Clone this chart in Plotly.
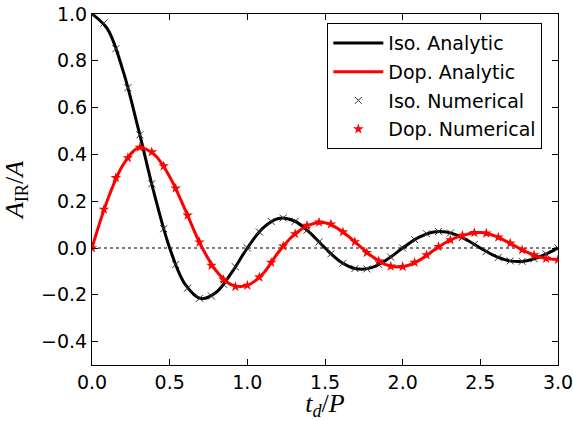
import plotly.graph_objects as go

# Analytic curves, sampled every 0.1 in t_d/P
td_analytic = [0.0, 0.1, 0.2, 0.3, 0.4, 0.5, 0.6, 0.7, 0.8, 0.9,
               1.0, 1.1, 1.2, 1.3, 1.4, 1.5, 1.6, 1.7, 1.8, 1.9,
               2.0, 2.1, 2.2, 2.3, 2.4, 2.5, 2.6, 2.7, 2.8, 2.9, 3.0]
iso_analytic = [1.0, 0.9355, 0.7568, 0.5046, 0.2339, 0.0, -0.1559, -0.2162, -0.1892, -0.1039,
                0.0, 0.0850, 0.1261, 0.1164, 0.0668, 0.0, -0.0585, -0.0890, -0.0841, -0.0492,
                0.0, 0.0445, 0.0688, 0.0658, 0.0390, 0.0, -0.0360, -0.0561, -0.0541, -0.0323, 0.0]
dop_analytic = [0.0, 0.205, 0.355, 0.428, 0.400, 0.305, 0.163, 0.013, -0.098, -0.158,
                -0.160, -0.110, -0.018, 0.056, 0.099, 0.108, 0.076, 0.022, -0.034, -0.073,
                -0.080, -0.055, -0.010, 0.032, 0.056, 0.066, 0.050, 0.017, -0.018, -0.042, -0.050]

# Numerical results, 40 evenly spaced delays over [0, 3]
td_numerical = [0.0, 0.0769, 0.1538, 0.2308, 0.3077, 0.3846, 0.4615, 0.5385, 0.6154, 0.6923,
                0.7692, 0.8462, 0.9231, 1.0, 1.0769, 1.1538, 1.2308, 1.3077, 1.3846, 1.4615,
                1.5385, 1.6154, 1.6923, 1.7692, 1.8462, 1.9231, 2.0, 2.0769, 2.1538, 2.2308,
                2.3077, 2.3846, 2.4615, 2.5385, 2.6154, 2.6923, 2.7692, 2.8462, 2.9231, 3.0]
iso_numerical = [1.0, 0.9615, 0.8514, 0.6846, 0.4836, 0.2744, 0.0825, -0.0707, -0.1715, -0.2149,
                 -0.2054, -0.1548, -0.0801, 0.0, 0.0687, 0.1135, 0.1284, 0.1138, 0.0762, 0.0261,
                 -0.0248, -0.0653, -0.0879, -0.0893, -0.0709, -0.0385, 0.0, 0.0356, 0.0608, 0.0708,
                 0.0645, 0.0443, 0.0155, -0.0150, -0.0404, -0.0553, -0.0571, -0.0460, -0.0253, 0.0]
dop_numerical = [0.0, 0.165, 0.300, 0.385, 0.430, 0.410, 0.350, 0.255, 0.140, 0.025,
                 -0.075, -0.135, -0.165, -0.160, -0.125, -0.062, 0.008, 0.060, 0.096, 0.110,
                 0.102, 0.068, 0.026, -0.020, -0.055, -0.078, -0.080, -0.062, -0.030, 0.005,
                 0.034, 0.053, 0.065, 0.063, 0.046, 0.020, -0.008, -0.030, -0.045, -0.050]

x_ticks = [0.0, 0.5, 1.0, 1.5, 2.0, 2.5, 3.0]
y_ticks = [-0.4, -0.2, 0.0, 0.2, 0.4, 0.6, 0.8, 1.0]

TICK_FONT = dict(family="DejaVu Sans", size=19, color="black")
MATH_FONT = dict(family="Liberation Serif", size=26, color="black")

fig = go.Figure()

fig.add_trace(go.Scatter(
    x=td_analytic, y=iso_analytic, mode="lines", name="Iso. Analytic",
    line=dict(color="black", width=3, shape="spline", smoothing=1.0),
    legendgroup="a"))
fig.add_trace(go.Scatter(
    x=td_analytic, y=dop_analytic, mode="lines", name="Dop. Analytic",
    line=dict(color="red", width=3, shape="spline", smoothing=1.0),
    legendgroup="b"))
fig.add_trace(go.Scatter(
    x=td_numerical, y=iso_numerical, mode="markers", name="Iso. Numerical",
    marker=dict(symbol="x-thin", size=7, color="black",
                line=dict(color="#333333", width=1)),
    legendgroup="c"))
fig.add_trace(go.Scatter(
    x=td_numerical, y=dop_numerical, mode="markers", name="Dop. Numerical",
    marker=dict(symbol="star", size=8, color="red", line=dict(width=0)),
    legendgroup="d"))

# dotted zero reference line
fig.add_shape(type="line", xref="paper", x0=0, x1=1, yref="y", y0=0, y1=0,
              line=dict(color="black", width=1, dash="dot"), layer="below")

axis_common = dict(
    showline=True, linecolor="black", linewidth=1, mirror="allticks",
    ticks="inside", ticklen=6, tickwidth=1, tickcolor="black",
    showgrid=False, zeroline=False, tickfont=TICK_FONT, automargin=False,
    ticklabeloverflow="allow",
)

fig.update_xaxes(
    range=[0, 3], tickvals=x_ticks, ticktext=[f"{v:.1f}" for v in x_ticks],
    title=dict(text="<i>t</i><sub><i>d</i></sub>/<i>P</i>", font=MATH_FONT, standoff=11),
    **axis_common)
fig.update_yaxes(
    range=[-0.5, 1.0], tickvals=y_ticks,
    ticktext=[f"{v:.1f}".replace("-", "\u2212") for v in y_ticks],
    title=dict(text="<i>A</i><sub>IR</sub>/<i>A</i>", font=MATH_FONT, standoff=13),
    **axis_common)

fig.update_layout(
    width=573, height=421,
    margin=dict(l=92, r=15, t=14, b=56),
    paper_bgcolor="white", plot_bgcolor="white",
    showlegend=True,
    legend=dict(
        x=0.505, y=0.974, xanchor="left", yanchor="top",
        bordercolor="black", borderwidth=1, bgcolor="white",
        font=dict(family="DejaVu Sans", size=19, color="black"),
        traceorder="grouped", tracegroupgap=1, itemwidth=50,
    ),
)

fig.write_html("out.html")
